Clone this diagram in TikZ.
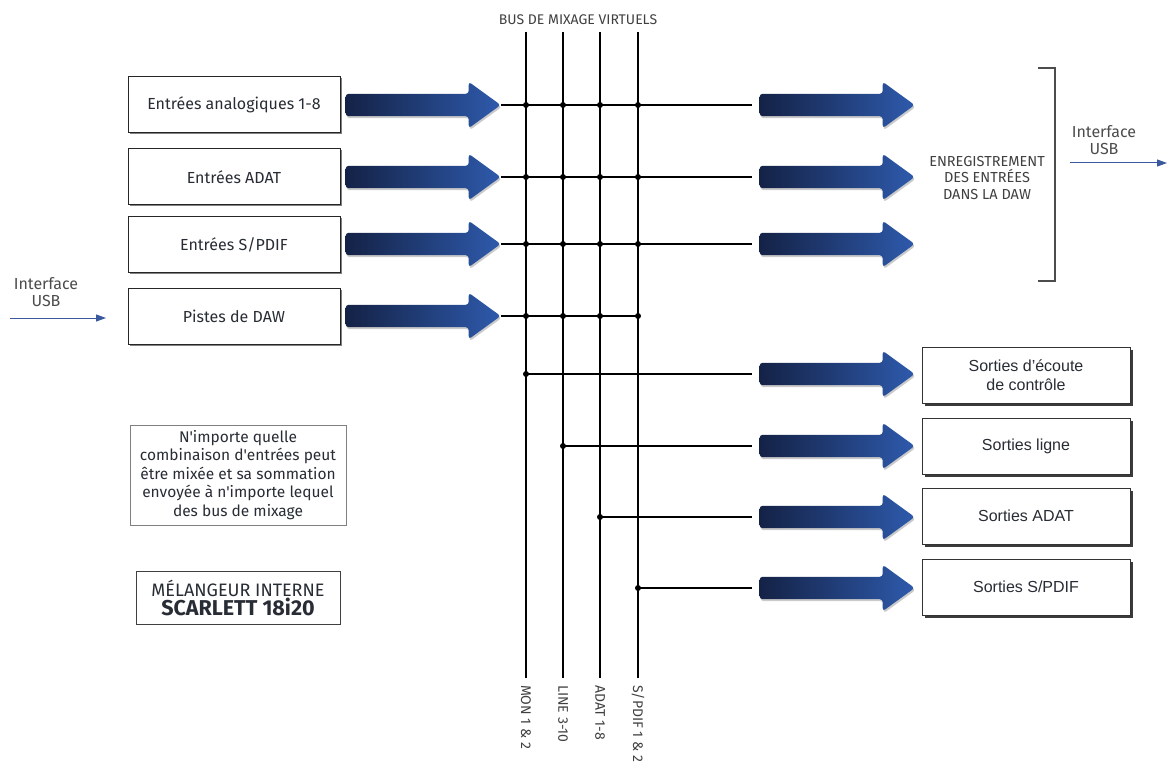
\documentclass[tikz,border=0pt]{standalone}
\usepackage{fontspec}
\setmainfont{Liberation Sans}
\newfontfamily\dinfont{Fira Sans}
\usetikzlibrary{shapes.arrows,shadows,arrows.meta}
\definecolor{navy}{RGB}{20,34,70}
\definecolor{brightblue}{RGB}{46,90,172}
\definecolor{usbblue}{RGB}{58,88,158}
\definecolor{inktext}{RGB}{40,44,52}
\tikzset{
  inbox/.style={draw=black!85,line width=1pt,fill=white,minimum width=212pt,minimum height=56pt,
    text=inktext,font=\dinfont\fontsize{16}{19}\selectfont,
    drop shadow={shadow xshift=1.5pt,shadow yshift=-1.5pt,opacity=.7,fill=black!70}},
  outbox/.style={draw=black!80,line width=1pt,fill=white,minimum width=208pt,minimum height=56pt,
    align=center,text=inktext,font=\fontsize{16}{19}\selectfont,
    drop shadow={shadow xshift=3pt,shadow yshift=-3pt,opacity=.9,fill=black!85}},
  bigarrow/.style={single arrow,minimum height=155pt,minimum width=46pt,inner xsep=0pt,inner ysep=11pt,
    single arrow head extend=12pt,single arrow tip angle=72,rounded corners=3pt,
    left color=navy,right color=brightblue,draw=none,
    drop shadow={shadow xshift=1pt,shadow yshift=-2pt,opacity=.35,fill=black!60}},
  bus/.style={line width=1.2pt,black},
  jdot/.style={circle,fill=black,inner sep=0pt,minimum size=6pt},
  buslabel/.style={font=\dinfont\fontsize{14}{16}\selectfont,text=black!75,inner sep=0pt},
  usb/.style={usbblue,line width=1pt,-{Triangle[length=10pt,width=7pt]}},
  usblabel/.style={align=center,font=\dinfont\fontsize{16}{17}\selectfont,text=black!70}
}
\begin{document}
\begin{tikzpicture}[x=1pt,y=-1pt]
\useasboundingbox (0,0) rectangle (1173,762);
\node[inbox] (in1) at (234,105) {Entrées analogiques 1-8};
\node[inbox] (in2) at (234,177) {Entrées ADAT};
\node[inbox] (in3) at (234,245) {Entrées S/PDIF};
\node[inbox] (in4) at (234,316) {Pistes de DAW};
\node[bigarrow,anchor=tip] (ai1) at (501,105) {};
\node[bigarrow,anchor=tip] (ai2) at (501,177) {};
\node[bigarrow,anchor=tip] (ai3) at (501,244) {};
\node[bigarrow,anchor=tip] (ai4) at (501,316) {};
\node[bigarrow,anchor=tip] (ar1) at (915,105) {};
\node[bigarrow,anchor=tip] (ar2) at (915,177) {};
\node[bigarrow,anchor=tip] (ar3) at (915,244) {};
\node[bigarrow,anchor=tip] (ao1) at (915,374) {};
\node[bigarrow,anchor=tip] (ao2) at (915,446) {};
\node[bigarrow,anchor=tip] (ao3) at (915,517) {};
\node[bigarrow,anchor=tip] (ao4) at (915,588) {};
\node[outbox] (out1) at (1026,375) {Sorties d'écoute\\de contrôle};
\node[outbox] (out2) at (1026,446) {Sorties ligne};
\node[outbox] (out3) at (1026,516) {Sorties ADAT};
\node[outbox] (out4) at (1026,587) {Sorties S/PDIF};
\node[buslabel] (bustitle) at (578,20) {BUS DE MIXAGE VIRTUELS};
\coordinate (bt1) at (526,32); \coordinate (bb1) at (526,678);
\coordinate (bt2) at (563,32); \coordinate (bb2) at (563,678);
\coordinate (bt3) at (600,32); \coordinate (bb3) at (600,678);
\coordinate (bt4) at (638,32); \coordinate (bb4) at (638,678);
\draw[bus] (bt1) -- (bb1);
\draw[bus] (bt2) -- (bb2);
\draw[bus] (bt3) -- (bb3);
\draw[bus] (bt4) -- (bb4);
\node[buslabel,rotate=-90,anchor=west] (lb1) at (526,685) {MON 1 \& 2};
\node[buslabel,rotate=-90,anchor=west] (lb2) at (563,685) {LINE 3-10};
\node[buslabel,rotate=-90,anchor=west] (lb3) at (600,685) {ADAT 1-8};
\node[buslabel,rotate=-90,anchor=west] (lb4) at (638,685) {S/PDIF 1 \& 2};
\draw[bus,shorten >=7pt] (ai1.tip) -- (ar1.tail);
\draw[bus,shorten >=7pt] (ai2.tip) -- (ar2.tail);
\draw[bus,shorten >=7pt] (ai3.tip) -- (ar3.tail);
\draw[bus] (ai4.tip) -- (bt4 |- ai4.tip);
\foreach \b in {1,...,4}
  \foreach \r in {1,...,4}
    \node[jdot] at (bt\b |- ai\r.tip) {};
\draw[bus,shorten >=7pt] (bt1 |- ao1.tail) node[jdot] {} -- (ao1.tail);
\draw[bus,shorten >=7pt] (bt2 |- ao2.tail) node[jdot] {} -- (ao2.tail);
\draw[bus,shorten >=7pt] (bt3 |- ao3.tail) node[jdot] {} -- (ao3.tail);
\draw[bus,shorten >=7pt] (bt4 |- ao4.tail) node[jdot] {} -- (ao4.tail);
\draw[line width=1.3pt,black!70] (1038,68) -- (1055,68) -- (1055,281) -- (1038,281);
\node[align=center,font=\dinfont\fontsize{14.5}{16.5}\selectfont,text=black!75] (rec) at (987,178)
  {ENREGISTREMENT\\DES ENTRÉES\\DANS LA DAW};
\node[usblabel] (usbR) at (1104,140) {Interface\\USB};
\coordinate (usbRa) at (1070,163); \coordinate (usbRb) at (1167,163);
\draw[usb] (usbRa) -- (usbRb);
\node[usblabel] (usbL) at (46,292) {Interface\\USB};
\coordinate (usbLa) at (10,318); \coordinate (usbLb) at (106,318);
\draw[usb] (usbLa) -- (usbLb);
\node[draw=black!50,line width=1pt,minimum width=216pt,minimum height=100pt,align=center,
  text=inktext,font=\dinfont\fontsize{15.5}{18.5}\selectfont] (note) at (238,475)
  {N'importe quelle\\combinaison d'entrées peut\\être mixée et sa sommation\\envoyée à n'importe lequel\\des bus de mixage};
\node[draw=black!75,line width=1pt,minimum width=204pt,minimum height=53pt,align=center,inner sep=2pt,
  text=inktext,font=\dinfont\fontsize{18}{19}\selectfont] (title) at (238,598)
  {MÉLANGEUR INTERNE\\{\fontsize{21.5}{22}\selectfont\bfseries SCARLETT 18i20}};
\end{tikzpicture}
\end{document}
